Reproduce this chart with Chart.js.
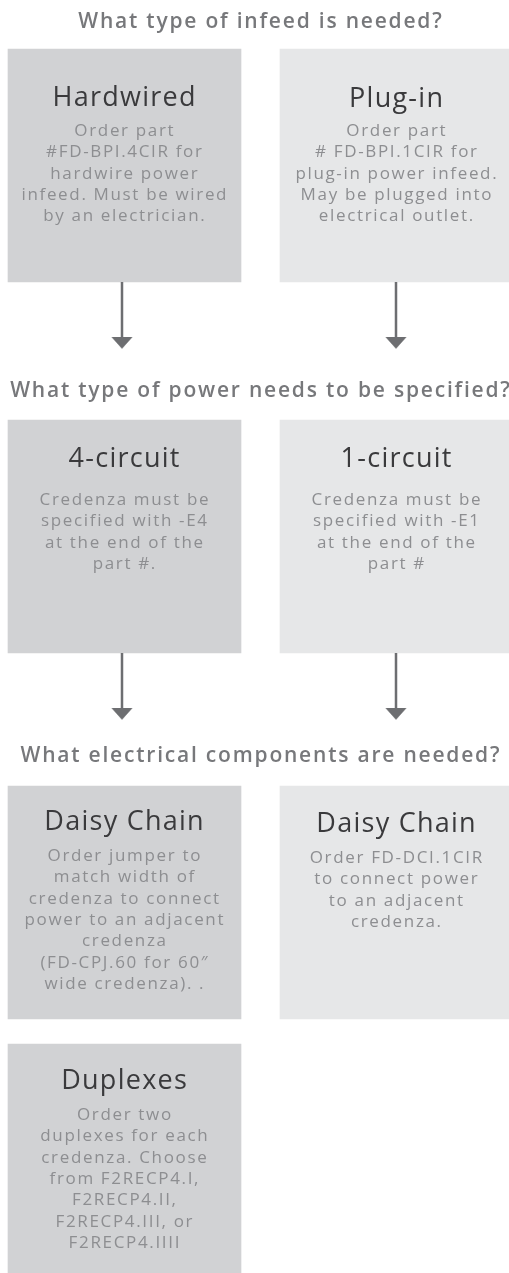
<!DOCTYPE html>
<html><head><meta charset="utf-8">
<script src="https://cdn.jsdelivr.net/npm/chart.js@4/dist/chart.umd.min.js"></script>
<style>html,body{margin:0;padding:0;background:#fff;overflow:hidden}#wrap{width:509px;height:1273px}</style>
</head><body><div id="wrap"><canvas id="c" width="509" height="1273"></canvas></div>
<script>
// ---- content (data) ----
const questions = [
  "What type of infeed is needed?",
  "What type of power needs to be specified?",
  "What electrical components are needed?"
];
const leftTitles = ["Hardwired", "4-circuit", "Daisy Chain", "Duplexes"];
const leftBodies = [
  ["Order part", "#FD-BPI.4CIR for", "hardwire power", "infeed. Must be wired", "by an electrician."],
  ["Credenza must be", "specified with -E4", "at the end of the", "part #."],
  ["Order jumper to", "match width of", "credenza to connect", "power to an adjacent", "credenza", "(FD-CPJ.60 for 60\u2033", "wide credenza). ."],
  ["Order two", "duplexes for each", "credenza. Choose", "from F2RECP4.I,", "F2RECP4.II,", "F2RECP4.III, or", "F2RECP4.IIII"]
];
const rightTitles = ["Plug-in", "1-circuit", "Daisy Chain"];
const rightBodies = [
  ["Order part", "# FD-BPI.1CIR for", "plug-in power infeed.", "May be plugged into", "electrical outlet."],
  ["Credenza must be", "specified with -E1", "at the end of the", "part #"],
  ["Order FD-DCI.1CIR", "to connect power", "to an adjacent", "credenza."]
];
const arrowRows = [0, 1];

// ---- layout & style ----
const W = 509, H = 1273;
const L = {
  colX: [124.5, 396.5], box: 233,
  rowTop: [49, 420, 786, 1044],
  qX: 260, qY: [20, 389, 754],
  textX: [124, 396],
  titleOff: [[47, 47.5], [37, 37], [34, 36], [35, 35]],
  bodyOff: [[81, 81], [79, 79], [69, 71], [70, 70]],
  lineH: 21.3,
  arrowX: [122, 396], shaftLen: 56, headTop: 55, headTip: 66.5, headHalf: 10.3
};
const S = {
  dark: '#d1d2d4', light: '#e6e7e8', arrow: '#6d6e71',
  qFont: '600 21px "Open Sans"', qColor: '#77787b', qTarget: ["What electrical components are needed?", 479],
  tFont: '400 27px "Open Sans"', tColor: '#3a3a3c', tTarget: ["Hardwired", 143],
  bFont: '400 17px "Open Sans"', bColor: '#8d8e91', bTarget: ["infeed. Must be wired", 205]
};

function build() {
  const boxes = [], boxColors = [];
  leftTitles.forEach((t, i) => { boxes.push({x: L.colX[0], y: [L.rowTop[i], L.rowTop[i] + L.box]}); boxColors.push(S.dark); });
  rightTitles.forEach((t, i) => { boxes.push({x: L.colX[1], y: [L.rowTop[i], L.rowTop[i] + L.box]}); boxColors.push(S.light); });

  const datasets = [{
    type: 'bar', data: boxes, backgroundColor: boxColors, borderWidth: 0,
    barThickness: L.box, order: 3
  }];
  arrowRows.forEach(r => {
    const b = L.rowTop[r] + L.box;
    L.arrowX.forEach(ax => {
      datasets.push({type: 'line', data: [{x: ax, y: b}, {x: ax, y: b + L.shaftLen}],
        borderColor: S.arrow, borderWidth: 2.5, pointRadius: 0, fill: false, order: 1});
      datasets.push({type: 'line', data: [{x: ax - L.headHalf, y: b + L.headTop}, {x: ax, y: b + L.headTip}, {x: ax + L.headHalf, y: b + L.headTop}],
        borderColor: S.arrow, backgroundColor: S.arrow, borderWidth: 0.5, pointRadius: 0, fill: 'shape', tension: 0, order: 0});
    });
  });

  const textPlugin = {
    id: 'flowText',
    afterDatasetsDraw(chart) {
      const ctx = chart.ctx, xs = chart.scales.x, ys = chart.scales.y;
      const hasLS = 'letterSpacing' in ctx;
      function spacing(font, sample, target) {
        ctx.font = font; if (hasLS) ctx.letterSpacing = '0px';
        const w = ctx.measureText(sample).width;
        return (target - w) / (sample.length - 1);
      }
      function capH(font) { ctx.font = font; if (hasLS) ctx.letterSpacing = '0px'; return ctx.measureText('H').actualBoundingBoxAscent; }
      const qs = spacing(S.qFont, S.qTarget[0], S.qTarget[1]);
      const ts = spacing(S.tFont, S.tTarget[0], S.tTarget[1]);
      const bs = spacing(S.bFont, S.bTarget[0], S.bTarget[1]);
      const qc = capH(S.qFont), tc = capH(S.tFont), bc = capH(S.bFont);
      function draw(text, x, yc, font, color, ls, ch) {
        ctx.save();
        ctx.font = font; ctx.fillStyle = color; ctx.textAlign = 'center'; ctx.textBaseline = 'alphabetic';
        const px = xs.getPixelForValue(x), py = ys.getPixelForValue(yc) + ch / 2;
        if (hasLS) { ctx.letterSpacing = ls + 'px'; ctx.fillText(text, px + ls / 2, py); }
        else { ctx.fillText(text, px, py); }
        ctx.restore();
      }
      questions.forEach((q, i) => draw(q, L.qX, L.qY[i], S.qFont, S.qColor, qs, qc));
      const cols = [[leftTitles, leftBodies], [rightTitles, rightBodies]];
      cols.forEach(([titles, bodies], c) => {
        titles.forEach((t, r) => {
          const top = L.rowTop[r];
          draw(t, L.textX[c], top + L.titleOff[r][c], S.tFont, S.tColor, ts, tc);
          bodies[r].forEach((line, k) => draw(line, L.textX[c], top + L.bodyOff[r][c] + k * L.lineH, S.bFont, S.bColor, bs, bc));
        });
      });
    }
  };

  new Chart(document.getElementById('c'), {
    type: 'bar',
    data: {datasets},
    options: {
      responsive: false, animation: false, devicePixelRatio: 1,
      layout: {padding: 0},
      plugins: {legend: {display: false}, tooltip: {enabled: false}},
      scales: {
        x: {type: 'linear', min: 0, max: W, display: false, offset: false},
        y: {type: 'linear', min: 0, max: H, reverse: true, display: false, stacked: false}
      }
    },
    plugins: [textPlugin]
  });
}
const fontLoads = [S.qFont, S.tFont, S.bFont].map(f => document.fonts.load(f));
Promise.all(fontLoads).then(build, build);
</script>
</body></html>
